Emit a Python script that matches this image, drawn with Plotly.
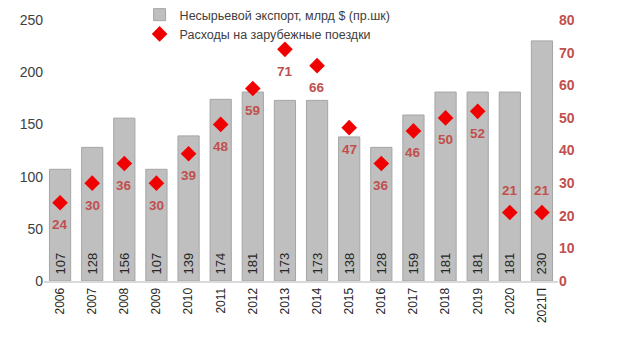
import plotly.graph_objects as go

years = ["2006", "2007", "2008", "2009", "2010", "2011", "2012", "2013",
         "2014", "2015", "2016", "2017", "2018", "2019", "2020", "2021П"]
export_vals = [107, 128, 156, 107, 139, 174, 181, 173, 173, 138, 128, 159, 181, 181, 181, 230]
travel_vals = [24, 30, 36, 30, 39, 48, 59, 71, 66, 47, 36, 46, 50, 52, 21, 21]
label_above = [False] * 14 + [True, True]

left_ticks = [0, 50, 100, 150, 200, 250]
right_ticks = [0, 10, 20, 30, 40, 50, 60, 70, 80]

FONT = "Liberation Sans"
RED_TXT = "#c0504d"

fig = go.Figure()
fig.add_trace(go.Bar(
    x=years, y=export_vals, name="Несырьевой экспорт, млрд $ (пр.шк)",
    marker=dict(color="#bfbfbf", line=dict(color="#a5a5a5", width=1)),
    text=["\u00a0" + str(v) for v in export_vals], textposition="inside",
    insidetextanchor="start", textangle=-90,
    textfont=dict(family=FONT, size=13, color="#262626"),
    yaxis="y",
))
fig.add_trace(go.Scatter(
    x=years, y=travel_vals, name="Расходы на зарубежные поездки",
    mode="markers", marker=dict(symbol="diamond", size=12, color="#f00000"),
    yaxis="y2",
))

# category axis: annotation x given as category index
for i, (v, up) in enumerate(zip(travel_vals, label_above)):
    fig.add_annotation(
        x=i, y=v, xref="x", yref="y2", text=f"<b>{v}</b>", showarrow=False,
        yshift=22 if up else -22,
        font=dict(family=FONT, size=13.5, color=RED_TXT),
    )

fig.update_layout(
    width=620, height=343,
    margin=dict(l=44, r=62, t=20, b=62, autoexpand=False),
    paper_bgcolor="white", plot_bgcolor="white",
    bargap=0.34,
    font=dict(family=FONT, size=12, color="#404040"),
    showlegend=True,
    legend=dict(x=0.186, y=1.0, xanchor="left", yanchor="top", yref="container",
                orientation="v", font=dict(family=FONT, size=12.5, color="#404040"),
                bgcolor="rgba(0,0,0,0)", tracegroupgap=0),
    xaxis=dict(type="category", range=[-0.5, len(years) - 0.5], tickangle=-90,
               showgrid=False, showline=True,
               linecolor="#d9d9d9", linewidth=2, ticks="",
               tickfont=dict(size=12, color="#262626")),
    yaxis=dict(range=[0, 250], tickvals=left_ticks, showgrid=False, zeroline=False,
               ticks="", tickfont=dict(size=14, color="#404040")),
    yaxis2=dict(range=[0, 80], tickvals=right_ticks, overlaying="y", side="right",
                showgrid=False, zeroline=False, ticks="",
                tickfont=dict(size=14, color=RED_TXT, weight="bold")),
)

fig.write_html("out.html")
